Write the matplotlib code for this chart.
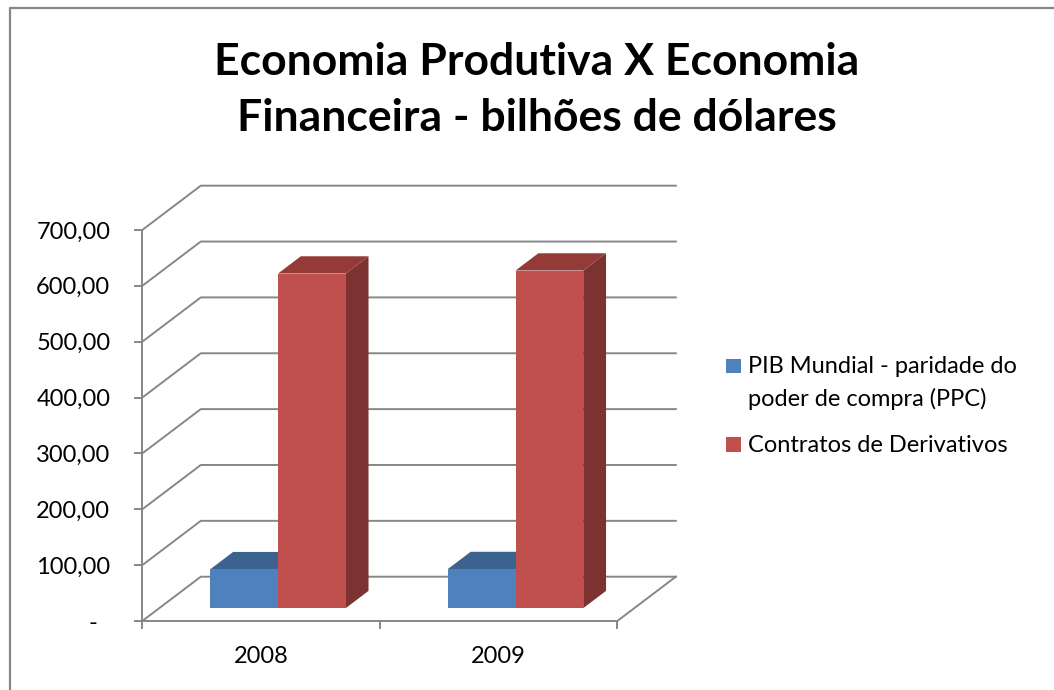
import matplotlib.pyplot as plt
from matplotlib.patches import Polygon, Rectangle
from matplotlib.lines import Line2D

plt.rcParams['font.family'] = ['Lato', 'DejaVu Sans']

# dados
anos = ['2008', '2009']
pib = [69.7, 70.0]
derivativos = [599.0, 604.4]
nomes = ['PIB Mundial - paridade do\npoder de compra (PPC)', 'Contratos de Derivativos']
ticks_y = [0, 100, 200, 300, 400, 500, 600, 700]
rotulos_y = ['-  ', '100,00', '200,00', '300,00', '400,00', '500,00', '600,00', '700,00']

# cores (frente, topo, lado)
cores_pib = ('#4F81BD', '#3C638F', '#2F4F73')
cores_der = ('#C0504D', '#943B38', '#7B3230')
cinza = '#878787'

fig = plt.figure(figsize=(10.54, 6.9), dpi=100)
fig.add_artist(Line2D([9.5 / 1054, 9.5 / 1054, 1], [0, 1 - 7.5 / 690, 1 - 7.5 / 690],
                      color=cinza, lw=1.6))

ax = fig.add_axes([0.135, 0.1, 0.5062, 0.6309])
# profundidade do "3d" em unidades de dados
DX, DY = 0.2463, 79.3
ax.set_xlim(-0.5, 1.5 + DX)
ax.set_ylim(0, 700 + DY)
ax.patch.set_visible(False)

# parede do fundo e lateral
for v in ticks_y:
    ax.plot([-0.5, -0.5 + DX, 1.5 + DX], [v, v + DY, v + DY], color=cinza, lw=1.4,
            zorder=1, clip_on=False)
ax.plot([1.5, 1.5 + DX], [0, DY], color=cinza, lw=1.4, zorder=1, clip_on=False)

# barras
f0 = 0.29
prof = 0.39
larg = 0.285
for i in range(len(anos)):
    for s, (vals, cores) in enumerate([(pib, cores_pib), (derivativos, cores_der)]):
        x0 = i - larg + s * larg + f0 * DX
        y0 = f0 * DY
        h = vals[i]
        ddx, ddy = prof * DX, prof * DY
        ax.add_patch(Polygon([(x0 + larg, y0), (x0 + larg + ddx, y0 + ddy),
                              (x0 + larg + ddx, y0 + h + ddy), (x0 + larg, y0 + h)],
                             closed=True, color=cores[2], lw=0, zorder=2 + s * 3))
        ax.add_patch(Polygon([(x0, y0 + h), (x0 + larg, y0 + h),
                              (x0 + larg + ddx, y0 + h + ddy), (x0 + ddx, y0 + h + ddy)],
                             closed=True, color=cores[1], lw=0, zorder=3 + s * 3))
        ax.bar(x0, h, width=larg, bottom=y0, align='edge', color=cores[0], lw=0,
               zorder=4 + s * 3)

for lado in ['top', 'right']:
    ax.spines[lado].set_visible(False)
for lado in ['left', 'bottom']:
    ax.spines[lado].set_color(cinza)
    ax.spines[lado].set_linewidth(1.4)
ax.spines['left'].set_bounds(0, 700)
ax.spines['bottom'].set_bounds(-0.5, 1.5)

ax.set_yticks(ticks_y, rotulos_y)
ax.tick_params(axis='y', length=6, width=1.4, color=cinza, pad=17, labelsize=17)
ax.set_xticks([-0.5, 0.5, 1.5], ['', '', ''])
ax.set_xticks([0, 1], anos, minor=True)
ax.tick_params(axis='x', which='major', length=6, width=1.4, color=cinza)
ax.tick_params(axis='x', which='minor', length=0, pad=18, labelsize=17)

fig.text(537 / 1054, 1 - 90 / 690, 'Economia Produtiva X Economia\nFinanceira - bilhões de dólares',
         ha='center', va='center', fontsize=32, fontweight='bold', linespacing=1.48)

# legenda
cores_leg = [cores_pib[0], cores_der[0]]
y_base = [373.3, 451.7]
for nome, cor, yb in zip(nomes, cores_leg, y_base):
    fig.add_artist(Rectangle((726 / 1054, 1 - yb / 690), 14.5 / 1054, 14.5 / 690,
                             transform=fig.transFigure, color=cor, lw=0))
    # baseline de texto com varias linhas fica na ultima linha
    yl = yb + 32.4 * nome.count('\n')
    fig.text(748 / 1054, 1 - yl / 690, nome, ha='left', va='baseline', fontsize=17,
             linespacing=1.6)

fig.savefig('out.png', dpi=100)
